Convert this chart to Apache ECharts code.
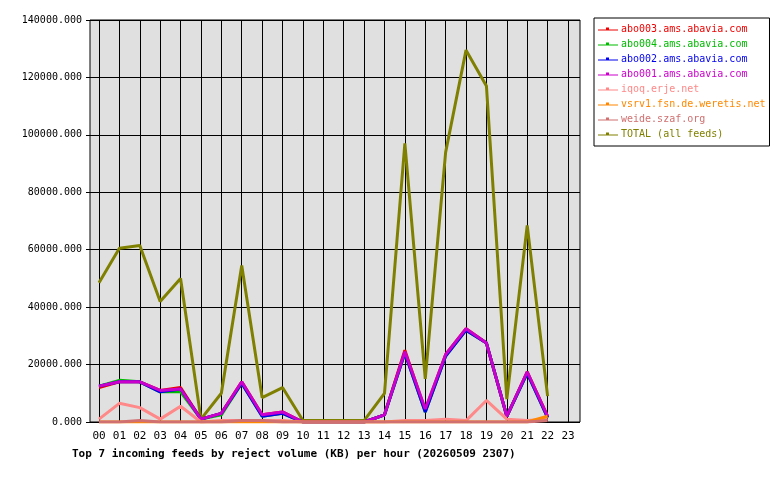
<!DOCTYPE html><html><head><meta charset="utf-8">
<script src="https://cdn.jsdelivr.net/npm/echarts@6/dist/echarts.min.js"></script>
<style>body{margin:0;background:#fff}#c{width:780px;height:480px}</style></head><body><div id="c"></div>
<script>
const hours=["00","01","02","03","04","05","06","07","08","09","10","11","12","13","14","15","16","17","18","19","20","21","22","23"];
const names=["abo003.ams.abavia.com","abo004.ams.abavia.com","abo002.ams.abavia.com","abo001.ams.abavia.com","iqoq.erje.net","vsrv1.fsn.de.weretis.net","weide.szaf.org","TOTAL (all feeds)"];
const colors=["#ee0000","#00bb00","#0000ee","#cc00cc","#ff8888","#ff8800","#d07070","#808000"];
const abo003=[12000,14000,14000,11000,12000,1000,3000,14000,2500,3500,0,0,0,0,2500,25000,4000,23500,32500,27500,2000,17500,2000];
const abo004=[12500,14500,14000,10500,10500,1000,2500,13500,2000,3000,0,0,0,0,2500,24000,3500,23000,32000,27500,2000,17000,1500];
const abo002=[12500,14000,14000,10500,11500,1000,3000,13500,2000,3000,0,0,0,0,2500,24000,3500,23000,32000,27500,2000,17000,1500];
const abo001=[12500,14000,14000,11000,11500,1000,3000,14000,2500,3500,0,0,0,0,2500,24500,4500,23500,32500,27500,2000,17500,2000];
const iqoq=[1000,6500,5000,1000,5500,0,500,500,500,500,0,0,0,0,0,500,500,1000,500,7500,1000,500,1000];
const vsrv1=[0,0,0,0,0,0,0,0,0,0,0,0,0,0,0,0,0,0,0,0,0,0,2000];
const weide=[0,0,500,0,0,0,0,500,500,0,0,0,0,0,0,0,0,0,0,0,0,0,500];
const total=[48500,60500,61500,42000,50000,1000,10000,54500,8500,12000,500,500,500,500,10000,97000,15000,94000,129500,117000,8000,68500,9000];
const data=[abo003,abo004,abo002,abo001,iqoq,vsrv1,weide,total];
const f="DejaVu Sans Mono";
const ch=echarts.init(document.getElementById('c'));
ch.setOption({
 animation:false,
 title:{text:"Top 7 incoming feeds by reject volume (KB) per hour (20260509 2307)",left:67,top:444,textStyle:{fontFamily:f,fontSize:11,fontWeight:"bold",color:"#000"}},
 graphic:[{type:"rect",shape:{x:90,y:20,width:490,height:402},style:{fill:"#e0e0e0",stroke:"#000",lineWidth:1},z:-10,silent:true}],
 legend:{orient:"vertical",left:594,top:18,itemGap:5,itemWidth:20,itemHeight:8,borderColor:"#000",borderWidth:1,padding:[6,4,7,4],backgroundColor:"#fff",
  data:names.map((n,i)=>({name:n,textStyle:{color:colors[i]}})),textStyle:{fontFamily:f,fontSize:10,padding:[0,0,0,-2]},icon:"path://M0,4h20v1h-20zM8,2h3v3h-3z"},
 grid:[{left:99,top:20,width:469,height:402},{left:86,top:20,width:494,height:402}],
 xAxis:[{type:"category",data:hours,boundaryGap:false,axisLine:{show:false},axisTick:{show:false},
  axisLabel:{fontFamily:f,fontSize:11,color:"#000",margin:9},splitLine:{show:true,interval:0,lineStyle:{color:"#000"}}},
  {type:"category",gridIndex:1,data:hours,show:false}],
 yAxis:[{type:"value",min:0,max:140000,interval:20000,axisLine:{show:false},axisTick:{show:false},
  axisLabel:{fontFamily:f,fontSize:10,color:"#000",margin:17,formatter:v=>v.toFixed(3)},splitLine:{show:false}},
  {type:"value",gridIndex:1,min:0,max:140000,interval:20000,axisLine:{show:false},axisTick:{show:false},axisLabel:{show:false},splitLine:{lineStyle:{color:"#000"}}}],
 series:data.map((d,i)=>({name:names[i],type:"line",data:d,symbol:"none",color:colors[i],lineStyle:{width:3,color:colors[i]},z:i==7?1:2+i}))
});
</script></body></html>
